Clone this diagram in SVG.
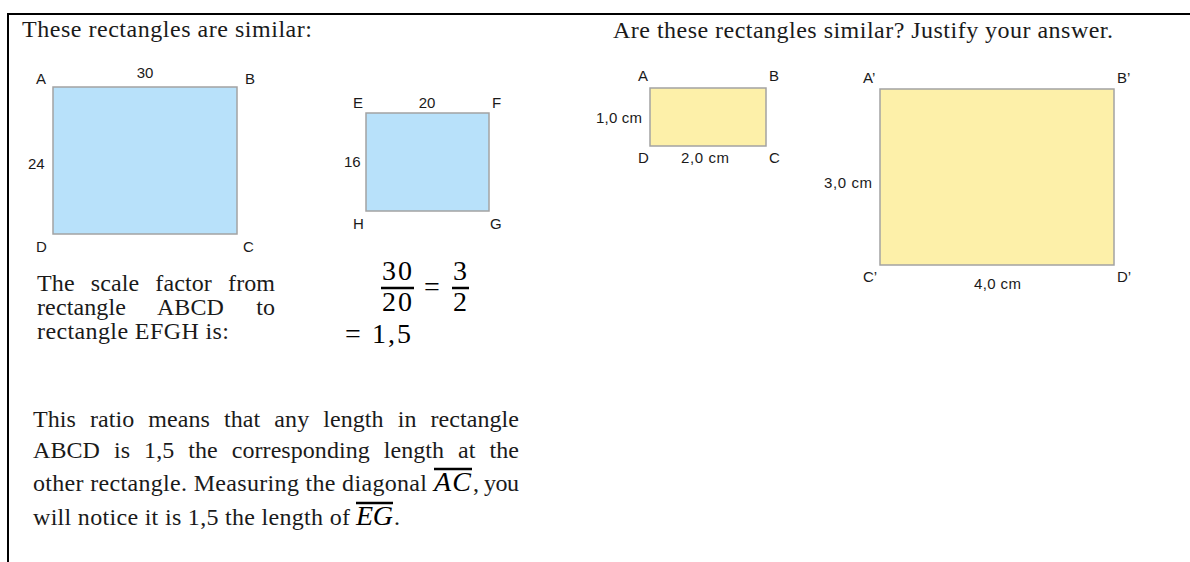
<svg xmlns="http://www.w3.org/2000/svg" width="1190" height="562" viewBox="0 0 1190 562">
<style>
.body{font-family:"Liberation Serif","Times New Roman",serif;font-size:24px;fill:#1a1a1a}
.lbl{font-family:"Liberation Sans",Arial,sans-serif;font-size:15px;fill:#1a1a1a}
.math{font-family:"Liberation Serif","Times New Roman",serif;font-size:28px;fill:#000}
.mi{font-family:"Liberation Serif","Times New Roman",serif;font-size:28px;font-style:italic;fill:#000}
.blue{fill:#b8e1fa;stroke:#a3a3a3;stroke-width:1.5}
.yel{fill:#fdf0a9;stroke:#a3a3a3;stroke-width:1.5}
.bar{stroke:#000;stroke-width:2.5}
</style>
<rect width="1190" height="562" fill="#fff"/>
<g id="frame" stroke="#000" stroke-width="2">
<line x1="8" y1="14" x2="1190" y2="14"/>
<line x1="8" y1="13" x2="8" y2="562"/>
</g>
<text class="body" x="22" y="37" textLength="290">These rectangles are similar:</text>
<text class="body" x="613" y="38" textLength="500">Are these rectangles similar? Justify your answer.</text>
<g id="rectABCD">
<rect class="blue" x="53" y="87" width="184" height="147"/>
<text class="lbl" x="36" y="84">A</text>
<text class="lbl" x="145" y="78" text-anchor="middle">30</text>
<text class="lbl" x="28" y="169">24</text>
<text class="lbl" x="245" y="84">B</text>
<text class="lbl" x="36" y="252">D</text>
<text class="lbl" x="243" y="252">C</text>
</g>
<g id="rectEFGH">
<rect class="blue" x="366" y="113" width="123" height="98"/>
<text class="lbl" x="353" y="108">E</text>
<text class="lbl" x="427" y="108" text-anchor="middle">20</text>
<text class="lbl" x="492" y="108">F</text>
<text class="lbl" x="344" y="167">16</text>
<text class="lbl" x="353" y="229">H</text>
<text class="lbl" x="490" y="229">G</text>
</g>
<g id="rectSmall">
<rect class="yel" x="650" y="88" width="116" height="58"/>
<text class="lbl" x="638" y="81">A</text>
<text class="lbl" x="769" y="81">B</text>
<text class="lbl" x="596" y="123" textLength="46">1,0 cm</text>
<text class="lbl" x="638" y="163">D</text>
<text class="lbl" x="681" y="163" textLength="48">2,0 cm</text>
<text class="lbl" x="769" y="163">C</text>
</g>
<g id="rectBig">
<rect class="yel" x="880" y="89" width="234" height="176"/>
<text class="lbl" x="863" y="83">A’</text>
<text class="lbl" x="1117" y="83">B’</text>
<text class="lbl" x="824" y="188" textLength="48">3,0 cm</text>
<text class="lbl" x="863" y="282">C’</text>
<text class="lbl" x="1117" y="282">D’</text>
<text class="lbl" x="974" y="289" textLength="47">4,0 cm</text>
</g>
<g id="scaleText">
<text class="body" x="37" y="291" textLength="238" word-spacing="10">The scale factor from</text>
<text class="body" x="37" y="315" textLength="238" word-spacing="26">rectangle ABCD to</text>
<text class="body" x="37" y="339" textLength="192">rectangle EFGH is:</text>
</g>
<g id="fraction">
<text class="math" x="397" y="280" text-anchor="middle" textLength="30">30</text>
<line class="bar" x1="381" y1="288" x2="414" y2="288"/>
<text class="math" x="397" y="311" text-anchor="middle" textLength="30">20</text>
<text class="math" x="432" y="296" text-anchor="middle" textLength="19">=</text>
<text class="math" x="460" y="280" text-anchor="middle">3</text>
<line class="bar" x1="452" y1="288" x2="469" y2="288"/>
<text class="math" x="460" y="311" text-anchor="middle">2</text>
<text class="math" x="345" y="343" textLength="66">= 1,5</text>
</g>
<g id="paragraph">
<text class="body" x="33" y="427" textLength="486" word-spacing="8">This ratio means that any length in rectangle</text>
<text class="body" x="33" y="458" textLength="486" word-spacing="8">ABCD is 1,5 the corresponding length at the</text>
<text class="body" x="33" y="491" textLength="394">other rectangle. Measuring the diagonal</text>
<text class="mi" x="434" y="491" textLength="37">AC</text>
<line class="bar" x1="434" y1="469" x2="472" y2="469"/>
<text class="body" x="473" y="491" textLength="46">, you</text>
<text class="body" x="33" y="525" textLength="317">will notice it is 1,5 the length of</text>
<text class="mi" x="356" y="525" textLength="37">EG</text>
<line class="bar" x1="356" y1="503" x2="393" y2="503"/>
<text class="body" x="394" y="525">.</text>
</g>
</svg>
